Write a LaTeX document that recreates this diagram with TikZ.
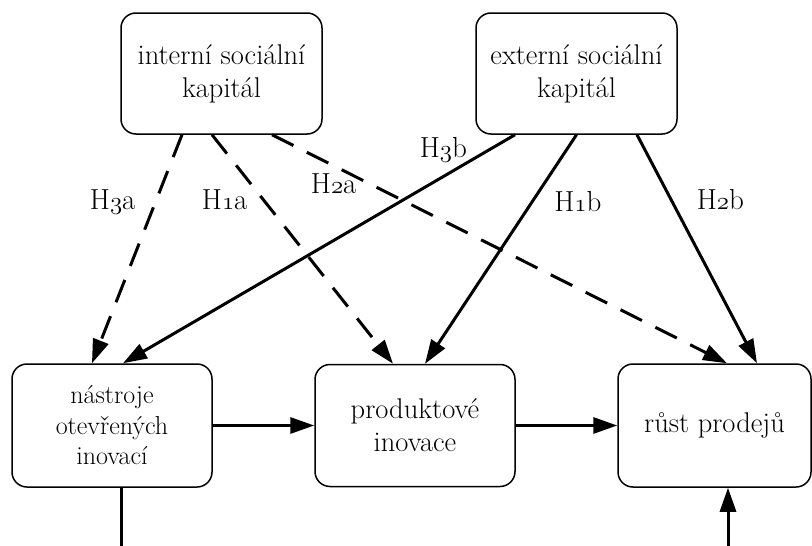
\documentclass[tikz,border=0pt]{standalone}
\usetikzlibrary{arrows.meta}
% old-style figures taken from the Latin Modern math italic font
\newcommand{\osnum}[1]{{\usefont{OML}{lmm}{m}{it}#1}}
\tikzset{
  concept/.style={draw, line width=1.5pt, rounded corners=15pt, inner sep=0pt,
    minimum width=201pt, minimum height=121pt, align=center,
    font=\fontsize{28.5}{33}\selectfont},
  smallconcept/.style={concept, font=\fontsize{26}{30.5}\selectfont},
  link/.style={line width=3pt, -{Triangle[length=24pt,width=16pt]}},
  weaklink/.style={link, dash pattern=on 24pt off 15pt},
  plainline/.style={line width=3pt},
  hyp/.style={anchor=base, inner sep=0pt, font=\fontsize{29}{33}\selectfont}
}
\begin{document}
\begin{tikzpicture}[x=1pt, y=-1pt]
  \useasboundingbox (0,0) rectangle (812,546);

  % source constructs
  \node[concept] (int) at (221.5,73.5) {interní sociální\\kapitál};
  \node[concept] (ext) at (576.5,73.5) {externí sociální\\kapitál};

  % outcome constructs
  \node[smallconcept, minimum width=200pt, minimum height=123pt] (nast) at (112,425.5)
    {nástroje\\otevřených\\inovací};
  \node[concept, minimum width=200pt, minimum height=122pt] (prod) at (415,425.5)
    {produktové\\inovace};
  \node[concept, minimum width=193pt, minimum height=123pt] (rust) at (714.5,425.5)
    {růst prodejů};

  % loose ends at the lower border
  \coordinate (nastout) at (121,546);
  \coordinate (rustin) at (728,546);

  % hypotheses from internal social capital (dashed)
  \draw[weaklink] ([xshift=-39.5pt]int.south) -- ([xshift=-20pt]nast.north);
  \draw[weaklink] ([xshift=-9.5pt]int.south) -- ([xshift=-22pt]prod.north);
  \draw[weaklink] ([xshift=50.5pt]int.south) -- ([xshift=12.5pt]rust.north);

  % hypotheses from external social capital (solid)
  \draw[link] ([xshift=-61.5pt]ext.south) -- ([xshift=11pt]nast.north);
  \draw[link] (ext.south) -- ([xshift=10pt]prod.north);
  \draw[link] ([xshift=60.5pt]ext.south) -- ([xshift=42.5pt]rust.north);

  % chain of outcomes
  \draw[link] (nast.east) -- (prod.west);
  \draw[link] (prod.east) -- (rust.west);
  \draw[plainline] (nast.south -| nastout) -- (nastout);
  \draw[link] (rustin) -- (rustin |- rust.south);

  % hypothesis labels
  \node[hyp] (h3a) at (112.7,209) {H\osnum{3}a};
  \node[hyp] (h1a) at (224.7,209) {H\osnum{1}a};
  \node[hyp] (h2a) at (333.7,193) {H\osnum{2}a};
  \node[hyp] (h3b) at (443.3,157.3) {H\osnum{3}b};
  \node[hyp] (h1b) at (577.8,211.7) {H\osnum{1}b};
  \node[hyp] (h2b) at (720.3,209.3) {H\osnum{2}b};
\end{tikzpicture}
\end{document}
